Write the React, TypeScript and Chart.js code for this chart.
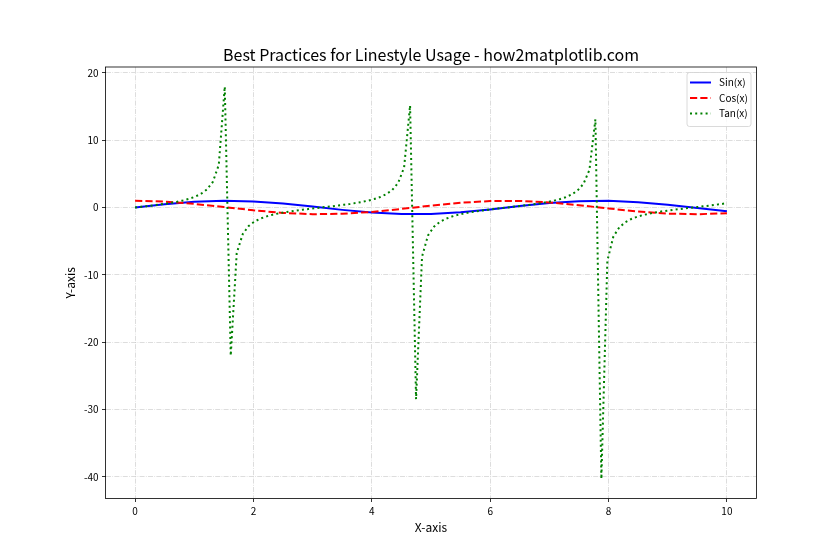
import React, { useEffect, useRef } from "react";
import { Chart, registerables } from "chart.js";

Chart.register(...registerables);

// ---- data ----
const waveX = [0, 0.5, 1, 1.5, 2, 2.5, 3, 3.5, 4, 4.5, 5, 5.5, 6, 6.5, 7, 7.5, 8, 8.5, 9, 9.5, 10];
const sinY = [0, 0.479, 0.841, 0.997, 0.909, 0.598, 0.141, -0.351, -0.757, -0.978, -0.959, -0.706, -0.279, 0.215, 0.657, 0.938, 0.989, 0.798, 0.412, -0.075, -0.544];
const cosY = [1, 0.878, 0.54, 0.071, -0.416, -0.801, -0.99, -0.936, -0.654, -0.211, 0.284, 0.709, 0.96, 0.977, 0.754, 0.347, -0.146, -0.602, -0.911, -0.997, -0.839];

const tanX = [0, 0.101, 0.202, 0.303, 0.404, 0.5051, 0.6061, 0.7071, 0.8081, 0.9091, 1.0101, 1.1111, 1.2121, 1.3131, 1.4141, 1.5152, 1.6162, 1.7172, 1.8182, 1.9192, 2.0202, 2.1212, 2.2222, 2.3232, 2.4242, 2.5253, 2.6263, 2.7273, 2.8283, 2.9293, 3.0303, 3.1313, 3.2323, 3.3333, 3.4343, 3.5354, 3.6364, 3.7374, 3.8384, 3.9394, 4.0404, 4.1414, 4.2424, 4.3434, 4.4444, 4.5455, 4.6465, 4.7475, 4.8485, 4.9495, 5.0505, 5.1515, 5.2525, 5.3535, 5.4545, 5.5556, 5.6566, 5.7576, 5.8586, 5.9596, 6.0606, 6.1616, 6.2626, 6.3636, 6.4646, 6.5657, 6.6667, 6.7677, 6.8687, 6.9697, 7.0707, 7.1717, 7.2727, 7.3737, 7.4747, 7.5758, 7.6768, 7.7778, 7.8788, 7.9798, 8.0808, 8.1818, 8.2828, 8.3838, 8.4848, 8.5859, 8.6869, 8.7879, 8.8889, 8.9899, 9.0909, 9.1919, 9.2929, 9.3939, 9.4949, 9.596, 9.697, 9.798, 9.899, 10];
const tanY = [0, 0.1, 0.2, 0.31, 0.43, 0.55, 0.69, 0.85, 1.05, 1.28, 1.59, 2.02, 2.67, 3.79, 6.33, 17.96, -22.01, -6.78, -3.96, -2.75, -2.07, -1.63, -1.31, -1.07, -0.87, -0.71, -0.57, -0.44, -0.32, -0.22, -0.11, -0.01, 0.09, 0.19, 0.3, 0.42, 0.54, 0.68, 0.84, 1.03, 1.26, 1.56, 1.97, 2.58, 3.64, 5.94, 15.15, -28.47, -7.31, -4.14, -2.85, -2.13, -1.67, -1.34, -1.09, -0.89, -0.72, -0.58, -0.45, -0.34, -0.23, -0.12, -0.02, 0.08, 0.18, 0.29, 0.4, 0.53, 0.66, 0.82, 1.0, 1.23, 1.52, 1.92, 2.51, 3.5, 5.58, 13.1, -40.31, -7.91, -4.33, -2.94, -2.19, -1.71, -1.37, -1.11, -0.91, -0.74, -0.59, -0.47, -0.35, -0.24, -0.13, -0.03, 0.07, 0.17, 0.28, 0.39, 0.51, 0.65];

const seriesLabels = ["Sin(x)", "Cos(x)", "Tan(x)"];
const xTicks = [0, 2, 4, 6, 8, 10];
const yTicks = [-40, -30, -20, -10, 0, 10, 20];

const titleText = "Best Practices for Linestyle Usage - how2matplotlib.com";
const xLabel = "X-axis";
const yLabel = "Y-axis";

const FONT = "'Noto Sans CJK SC', 'Noto Sans', sans-serif";

const frameAndLegend = {
  id: "frameAndLegend",
  afterDatasetsDraw(chart: any) {
    const { ctx, chartArea } = chart;
    ctx.save();
    ctx.strokeStyle = "#000";
    ctx.lineWidth = 0.8;
    ctx.setLineDash([]);
    ctx.strokeRect(chartArea.left, chartArea.top, chartArea.right - chartArea.left, chartArea.bottom - chartArea.top);
    ctx.restore();
  },
  afterDraw(chart: any) {
    const { ctx, chartArea } = chart;
    // title centred over the plot area
    ctx.save();
    ctx.fillStyle = "#000";
    ctx.font = `16px ${FONT}`;
    ctx.textAlign = "center";
    ctx.textBaseline = "middle";
    ctx.fillText(titleText, (chartArea.left + chartArea.right) / 2, 55);
    ctx.restore();

    const w = 64, h = 54;
    const x0 = chartArea.right - 5.5 - w;
    const y0 = chartArea.top + 5.5;
    ctx.save();
    ctx.beginPath();
    const r = 2.5;
    ctx.moveTo(x0 + r, y0);
    ctx.lineTo(x0 + w - r, y0);
    ctx.quadraticCurveTo(x0 + w, y0, x0 + w, y0 + r);
    ctx.lineTo(x0 + w, y0 + h - r);
    ctx.quadraticCurveTo(x0 + w, y0 + h, x0 + w - r, y0 + h);
    ctx.lineTo(x0 + r, y0 + h);
    ctx.quadraticCurveTo(x0, y0 + h, x0, y0 + h - r);
    ctx.lineTo(x0, y0 + r);
    ctx.quadraticCurveTo(x0, y0, x0 + r, y0);
    ctx.closePath();
    ctx.fillStyle = "rgba(255,255,255,0.8)";
    ctx.fill();
    ctx.strokeStyle = "#d0d0d0";
    ctx.lineWidth = 0.8;
    ctx.stroke();
    const datasets = chart.data.datasets;
    datasets.forEach((ds: any, i: number) => {
      const y = y0 + 10 + i * 15.5;
      ctx.beginPath();
      ctx.strokeStyle = ds.borderColor;
      ctx.lineWidth = ds.borderWidth;
      ctx.lineCap = "butt";
      ctx.setLineDash(ds.borderDash || []);
      ctx.moveTo(x0 + 3, y);
      ctx.lineTo(x0 + 24, y);
      ctx.stroke();
      ctx.setLineDash([]);
      ctx.fillStyle = "#000";
      ctx.font = `10px ${FONT}`;
      ctx.textBaseline = "middle";
      ctx.textAlign = "left";
      ctx.fillText(ds.label, x0 + 32, y);
    });
    ctx.restore();
  },
};

export default function App() {
  const ref = useRef<HTMLCanvasElement>(null);
  useEffect(() => {
    if (!ref.current) return;
    const toPts = (xs: number[], ys: number[]) => xs.map((x, i) => ({ x, y: ys[i] }));
    const chart = new Chart(ref.current, {
      type: "line",
      data: {
        datasets: [
          {
            label: seriesLabels[0],
            data: toPts(waveX, sinY),
            borderColor: "#0000ff",
            borderWidth: 2,
            borderDash: [],
            pointRadius: 0,
            tension: 0,
            order: 3,
          },
          {
            label: seriesLabels[1],
            data: toPts(waveX, cosY),
            borderColor: "#ff0000",
            borderWidth: 2,
            borderDash: [7.2, 3.1],
            pointRadius: 0,
            tension: 0,
            order: 2,
          },
          {
            label: seriesLabels[2],
            data: toPts(tanX, tanY),
            borderColor: "#008000",
            borderWidth: 2,
            borderDash: [2, 3.2],
            pointRadius: 0,
            tension: 0,
            order: 1,
          },
        ],
      },
      options: {
        animation: false,
        responsive: false,
        devicePixelRatio: 1,
        layout: { padding: { left: 0, right: 83.5, top: 67, bottom: 0 } },
        plugins: {
          legend: { display: false },
          tooltip: { enabled: false },
          title: { display: false },
        },
        scales: {
          x: {
            type: "linear",
            min: -0.5,
            max: 10.5,
            afterBuildTicks: (axis: any) => {
              axis.ticks = xTicks.map((v) => ({ value: v }));
            },
            afterFit: (axis: any) => {
              axis.height = 61.5;
            },
            ticks: {
              color: "#000",
              font: { family: FONT, size: 10 },
              padding: 3.5,
              maxRotation: 0,
              autoSkip: false,
            },
            grid: {
              color: "rgba(176,176,176,0.55)",
              lineWidth: 0.8,
              drawTicks: true,
              tickLength: 3.5,
              tickColor: "#000",
              tickWidth: 0.8,
              tickBorderDash: [],
            },
            border: { display: false, dash: [5, 1.3, 0.8, 1.3] },
            title: {
              display: true,
              text: xLabel,
              color: "#000",
              font: { family: FONT, size: 12, lineHeight: 1.2 },
              padding: { top: 0, bottom: 25.8 },
            },
          },
          y: {
            type: "linear",
            min: -43.22,
            max: 20.87,
            afterBuildTicks: (axis: any) => {
              axis.ticks = yTicks.map((v) => ({ value: v }));
            },
            afterFit: (axis: any) => {
              axis.width = 105.5;
            },
            ticks: {
              color: "#000",
              font: { family: FONT, size: 10 },
              padding: 3.5,
              autoSkip: false,
            },
            grid: {
              color: "rgba(176,176,176,0.55)",
              lineWidth: 0.8,
              drawTicks: true,
              tickLength: 3.5,
              tickColor: "#000",
              tickWidth: 0.8,
              tickBorderDash: [],
            },
            border: { display: false, dash: [5, 1.3, 0.8, 1.3] },
            title: {
              display: true,
              text: yLabel,
              color: "#000",
              font: { family: FONT, size: 12, lineHeight: 1.2 },
              padding: { top: 62.8, bottom: 0 },
            },
          },
        },
      },
      plugins: [frameAndLegend],
    } as any);
    return () => chart.destroy();
  }, []);
  return (
    <div style={{ position: "fixed", left: 0, top: 0, width: 840, height: 560, background: "#fff" }}>
      <canvas ref={ref} width={840} height={560} style={{ width: 840, height: 560 }} />
    </div>
  );
}
